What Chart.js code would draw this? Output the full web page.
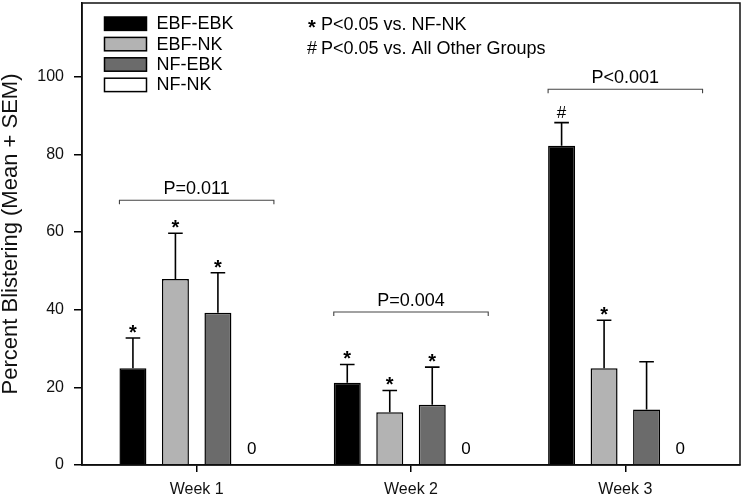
<!DOCTYPE html>
<html lang="en">
<head>
    <meta charset="UTF-8">
    <title>Percent Blistering by Week</title>
    <script src="https://cdn.jsdelivr.net/npm/chart.js"></script>
    <style>
        body {
            margin: 0;
            padding: 0;
            background-color: #ffffff;
        }

        .chart-box {
            width: 744px;
            height: 499px;
        }
    </style>
</head>
<body>

    <div class="chart-box">
        <canvas id="blisterChart" width="744" height="499"></canvas>
    </div>

    <script>
        // Data
        const weeks = ['Week 1', 'Week 2', 'Week 3'];
        const groups = ['EBF-EBK', 'EBF-NK', 'NF-EBK', 'NF-NK'];
        const groupColors = ['#000000', '#b3b3b3', '#6b6b6b', '#ffffff'];

        const ebfEbk = [24.9, 21.2, 82.2];
        const ebfNk = [47.9, 13.6, 24.9];
        const nfEbk = [39.2, 15.5, 14.3];
        const nfNk = [0, 0, 0];

        // upper error (SEM)
        const ebfEbkSem = [7.8, 4.7, 6.0];
        const ebfNkSem = [11.8, 5.6, 12.4];
        const nfEbkSem = [10.3, 9.7, 12.3];
        const nfNkSem = [0, 0, 0];

        // significance marks above each bar
        const ebfEbkMarks = ['*', '*', '#'];
        const ebfNkMarks = ['*', '*', '*'];
        const nfEbkMarks = ['*', '*', ''];
        const nfNkMarks = ['', '', ''];

        const zeroLabels = ['0', '0', '0'];

        const bracketLevels = [68.2, 39.4, 96.8];
        const bracketTexts = ['P=0.011', 'P=0.004', 'P<0.001'];

        const noteLines = [['*', 'P<0.05 vs. NF-NK'], ['#', 'P<0.05 vs. All Other Groups']];

        const yTicks = [0, 20, 40, 60, 80, 100];
        const yMax = 119;

        const seriesValues = [ebfEbk, ebfNk, nfEbk, nfNk];
        const seriesSem = [ebfEbkSem, ebfNkSem, nfEbkSem, nfNkSem];
        const seriesMarks = [ebfEbkMarks, ebfNkMarks, nfEbkMarks, nfNkMarks];

        const FONT = '"Liberation Sans", Arial, sans-serif';

        // error bars, stars, brackets, legend and notes
        const annotationPlugin = {
            id: 'annotations',
            afterDatasetsDraw(chart) {
                const ctx = chart.ctx;
                const y = chart.scales.y;
                const area = chart.chartArea;

                ctx.save();
                ctx.strokeStyle = '#000';
                ctx.fillStyle = '#000';

                // error bars + marks
                seriesValues.forEach((vals, d) => {
                    const meta = chart.getDatasetMeta(d);
                    meta.data.forEach((bar, i) => {
                        const sem = seriesSem[d][i];
                        let top = y.getPixelForValue(vals[i]);
                        if (sem > 0) {
                            top = y.getPixelForValue(vals[i] + sem);
                            ctx.lineWidth = 1.6;
                            ctx.beginPath();
                            ctx.moveTo(bar.x, y.getPixelForValue(vals[i]));
                            ctx.lineTo(bar.x, top);
                            ctx.moveTo(bar.x - 7.3, top);
                            ctx.lineTo(bar.x + 7.3, top);
                            ctx.stroke();
                        }
                        const mark = seriesMarks[d][i];
                        if (mark === '*') {
                            ctx.font = 'bold 20px ' + FONT;
                            ctx.textAlign = 'center';
                            ctx.textBaseline = 'alphabetic';
                            ctx.fillText('*', bar.x, top + 1);
                        } else if (mark === '#') {
                            ctx.font = '17px ' + FONT;
                            ctx.textAlign = 'center';
                            ctx.textBaseline = 'alphabetic';
                            ctx.fillText('#', bar.x, top - 5);
                        }
                    });
                });

                // "0" labels for the empty group
                const lastMeta = chart.getDatasetMeta(3);
                ctx.font = '17px ' + FONT;
                ctx.textAlign = 'left';
                ctx.textBaseline = 'middle';
                lastMeta.data.forEach((bar, i) => {
                    ctx.fillText(zeroLabels[i], bar.x - bar.width / 2, y.getPixelForValue(4));
                });

                // brackets
                const firstMeta = chart.getDatasetMeta(0);
                ctx.strokeStyle = '#444';
                ctx.lineWidth = 1.1;
                bracketLevels.forEach((lvl, i) => {
                    const b0 = firstMeta.data[i];
                    const b3 = lastMeta.data[i];
                    const x1 = b0.x - b0.width / 2;
                    const x2 = b3.x + b3.width / 2;
                    const by = y.getPixelForValue(lvl);
                    ctx.beginPath();
                    ctx.moveTo(x1, by + 4);
                    ctx.lineTo(x1, by);
                    ctx.lineTo(x2, by);
                    ctx.lineTo(x2, by + 4);
                    ctx.stroke();
                    ctx.font = '18px ' + FONT;
                    ctx.textAlign = 'center';
                    ctx.textBaseline = 'alphabetic';
                    ctx.fillText(bracketTexts[i], (x1 + x2) / 2, by - 6.5);
                });

                // legend
                ctx.strokeStyle = '#000';
                ctx.lineWidth = 1.5;
                groups.forEach((name, i) => {
                    const cy = area.top + 20.7 + i * 20.4;
                    ctx.fillStyle = groupColors[i];
                    ctx.fillRect(104.5, cy - 6.7, 42, 13.4);
                    ctx.strokeRect(104.5, cy - 6.7, 42, 13.4);
                    ctx.fillStyle = '#000';
                    ctx.font = '18px ' + FONT;
                    ctx.textAlign = 'left';
                    ctx.textBaseline = 'middle';
                    ctx.fillText(name, 156.5, cy + 0.5);
                });

                // notes
                noteLines.forEach((line, i) => {
                    const cy = area.top + 21.5 + i * 24;
                    ctx.textAlign = 'left';
                    ctx.textBaseline = 'middle';
                    if (line[0] === '*') {
                        ctx.font = 'bold 20px ' + FONT;
                        ctx.fillText(line[0], 308, cy + 4);
                    } else {
                        ctx.font = '18px ' + FONT;
                        ctx.fillText(line[0], 307, cy + 0.5);
                    }
                    ctx.font = '18px ' + FONT;
                    ctx.fillText(line[1], 321, cy + 0.5);
                });

                ctx.restore();
            },
            afterDraw(chart) {
                // box round the plot
                const ctx = chart.ctx;
                const a = chart.chartArea;
                ctx.save();
                ctx.strokeStyle = '#111';
                ctx.lineWidth = 1.5;
                ctx.strokeRect(a.left, a.top, a.right - a.left, a.bottom - a.top);
                ctx.restore();
            }
        };

        const ctx = document.getElementById('blisterChart').getContext('2d');
        const blisterChart = new Chart(ctx, {
            type: 'bar',
            data: {
                datasets: groups.map((name, d) => ({
                    label: name,
                    data: seriesValues[d].map((v, i) => ({ x: i + 1, y: v })),
                    backgroundColor: groupColors[d],
                    borderColor: '#000',
                    borderWidth: 1.5,
                    categoryPercentage: 0.793,
                    barPercentage: 0.635
                }))
            },
            options: {
                responsive: false,
                animation: false,
                layout: {
                    padding: { top: 3, right: 4, left: 0, bottom: 0 }
                },
                plugins: {
                    legend: { display: false },
                    tooltip: { enabled: false }
                },
                scales: {
                    x: {
                        type: 'linear',
                        min: 0.465,
                        max: 3.535,
                        offset: false,
                        grid: {
                            offset: false,
                            drawOnChartArea: false,
                            color: '#000',
                            tickLength: 7,
                            lineWidth: 1.5
                        },
                        border: { color: '#000', width: 1.5 },
                        ticks: {
                            color: '#111',
                            padding: 8,
                            font: { family: FONT, size: 16 },
                            callback: (v) => weeks[v - 1] || ''
                        },
                        afterBuildTicks: (scale) => {
                            scale.ticks = weeks.map((w, i) => ({ value: i + 1 }));
                        },
                        afterFit: (scale) => {
                            scale.height = 34;
                            scale.paddingLeft = 0;
                            scale.paddingRight = 0;
                        }
                    },
                    y: {
                        min: 0,
                        max: yMax,
                        grid: {
                            drawOnChartArea: false,
                            color: '#000',
                            tickLength: 8,
                            lineWidth: 1.5
                        },
                        border: { color: '#000', width: 1.5 },
                        ticks: {
                            color: '#111',
                            padding: 10,
                            font: { family: FONT, size: 16 }
                        },
                        afterBuildTicks: (scale) => {
                            scale.ticks = yTicks.map(v => ({ value: v }));
                        },
                        title: {
                            display: true,
                            text: 'Percent Blistering (Mean + SEM)',
                            color: '#111',
                            padding: 0,
                            font: { family: FONT, size: 22, lineHeight: 1 }
                        },
                        afterFit: (scale) => {
                            scale.width = 82;
                            scale.paddingTop = 0;
                            scale.paddingBottom = 0;
                        }
                    }
                }
            },
            plugins: [annotationPlugin]
        });
    </script>
</body>
</html>
